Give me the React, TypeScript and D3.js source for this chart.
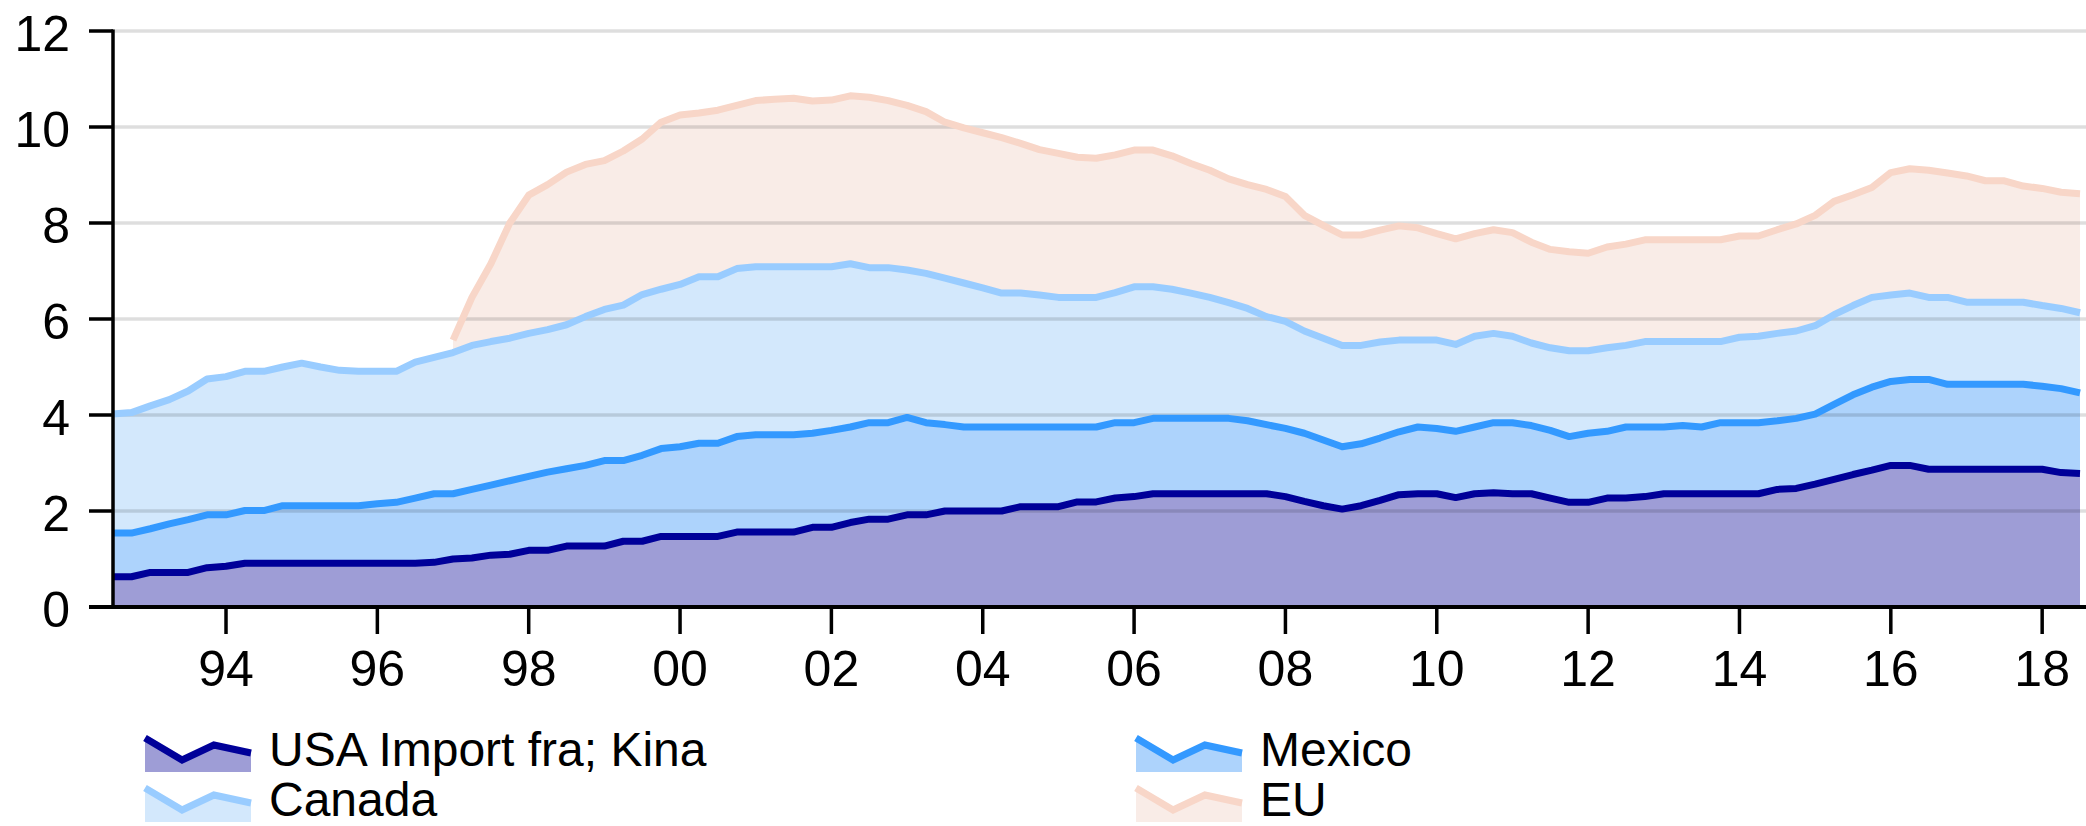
import React, { useEffect, useRef } from 'react'
import * as d3 from 'd3'

// quarterly observations, mid-1992 to mid-2018
const quarters = d3.range(105).map(i => 1992.5 + i * 0.25)

// stacked levels (each line sits on top of the series below it)
const kina = [
  0.63, 0.63,
  0.72, 0.72, 0.72, 0.82,
  0.85, 0.91, 0.91, 0.91,
  0.91, 0.91, 0.91, 0.91,
  0.91, 0.91, 0.91, 0.93,
  1.0, 1.02, 1.08, 1.1,
  1.18, 1.18, 1.27, 1.27,
  1.27, 1.37, 1.37, 1.47,
  1.47, 1.47, 1.47, 1.56,
  1.56, 1.56, 1.56, 1.66,
  1.66, 1.76, 1.83, 1.83,
  1.92, 1.92, 2.0, 2.0,
  2.0, 2.0, 2.09, 2.09,
  2.09, 2.19, 2.19, 2.27,
  2.3, 2.36, 2.36, 2.36,
  2.36, 2.36, 2.36, 2.36,
  2.3, 2.2, 2.11, 2.04,
  2.11, 2.22, 2.34, 2.36,
  2.36, 2.28, 2.36, 2.38,
  2.36, 2.36, 2.27, 2.18,
  2.18, 2.27, 2.27, 2.3,
  2.36, 2.36, 2.36, 2.36,
  2.36, 2.36, 2.45, 2.47,
  2.56, 2.66, 2.76, 2.85,
  2.95, 2.95, 2.87, 2.87,
  2.87, 2.87, 2.87, 2.87,
  2.87, 2.8, 2.78
]

const mexico = [
  1.54, 1.54,
  1.63, 1.73, 1.82, 1.92,
  1.92, 2.01, 2.01, 2.11,
  2.11, 2.11, 2.11, 2.11,
  2.15, 2.18, 2.27, 2.36,
  2.36, 2.45, 2.54, 2.63,
  2.72, 2.81, 2.88, 2.95,
  3.05, 3.05, 3.16, 3.3,
  3.34, 3.41, 3.41, 3.55,
  3.59, 3.59, 3.59, 3.62,
  3.68, 3.75, 3.84, 3.84,
  3.95, 3.84, 3.8, 3.75,
  3.75, 3.75, 3.75, 3.75,
  3.75, 3.75, 3.75, 3.84,
  3.84, 3.93, 3.93, 3.93,
  3.93, 3.93, 3.88, 3.8,
  3.72, 3.62, 3.48, 3.34,
  3.4, 3.52, 3.65, 3.75,
  3.72, 3.66, 3.75, 3.84,
  3.84, 3.78, 3.68, 3.55,
  3.62, 3.66, 3.75, 3.75,
  3.75, 3.78, 3.75, 3.84,
  3.84, 3.84, 3.88, 3.93,
  4.02, 4.22, 4.42, 4.58,
  4.7, 4.74, 4.74, 4.64,
  4.64, 4.64, 4.64, 4.64,
  4.6, 4.55, 4.46
]

const canada = [
  4.02, 4.05,
  4.19, 4.32, 4.5, 4.75,
  4.8, 4.91, 4.91, 5.0,
  5.08, 5.0, 4.93, 4.91,
  4.91, 4.91, 5.1, 5.2,
  5.3, 5.45, 5.53, 5.6,
  5.7, 5.78, 5.88, 6.05,
  6.2, 6.29, 6.51, 6.62,
  6.72, 6.88, 6.88, 7.05,
  7.09, 7.09, 7.09, 7.09,
  7.09, 7.15, 7.07, 7.07,
  7.02, 6.95, 6.85, 6.75,
  6.65, 6.54, 6.54, 6.5,
  6.45, 6.45, 6.45, 6.55,
  6.67, 6.67, 6.62, 6.54,
  6.45, 6.34, 6.22, 6.05,
  5.95, 5.75, 5.6, 5.45,
  5.45, 5.52, 5.56, 5.56,
  5.56, 5.47, 5.64, 5.7,
  5.64, 5.5, 5.4, 5.34,
  5.34, 5.4, 5.45, 5.53,
  5.53, 5.53, 5.53, 5.53,
  5.62, 5.64, 5.7, 5.75,
  5.86, 6.09, 6.28, 6.45,
  6.5, 6.54, 6.45, 6.45,
  6.35, 6.35, 6.35, 6.35,
  6.28, 6.22, 6.13
]

// EU series starts in 1997
const eu = [
  null, null,
  null, null, null, null,
  null, null, null, null,
  null, null, null, null,
  null, null, null, null,
  5.56, 6.45, 7.15, 8.0,
  8.58, 8.8, 9.06, 9.22,
  9.3, 9.5, 9.75, 10.1,
  10.25, 10.29, 10.35, 10.45,
  10.55, 10.58, 10.6, 10.54,
  10.56, 10.65, 10.62, 10.55,
  10.45, 10.32, 10.1, 9.98,
  9.88, 9.78, 9.66, 9.53,
  9.45, 9.37, 9.35, 9.42,
  9.52, 9.52, 9.4, 9.24,
  9.1, 8.92, 8.8, 8.7,
  8.55, 8.16, 7.95, 7.75,
  7.75, 7.85, 7.94, 7.9,
  7.78, 7.67, 7.78, 7.86,
  7.8, 7.6, 7.45, 7.4,
  7.37, 7.5, 7.56, 7.65,
  7.65, 7.65, 7.65, 7.65,
  7.73, 7.73, 7.86, 7.98,
  8.16, 8.45, 8.59, 8.74,
  9.05, 9.13, 9.1, 9.04,
  8.98, 8.88, 8.88, 8.77,
  8.72, 8.64, 8.61
]

const yTicks = [0, 2, 4, 6, 8, 10, 12]
const xTicks = [1994, 1996, 1998, 2000, 2002, 2004, 2006, 2008, 2010, 2012, 2014, 2016, 2018]
const xTickLabels = ['94', '96', '98', '00', '02', '04', '06', '08', '10', '12', '14', '16', '18']

const seriesNames = ['USA Import fra; Kina', 'Mexico', 'Canada', 'EU']

const width = 2086
const height = 826
const font = '"Liberation Sans", Arial, sans-serif'

function App() {
  const ref = useRef<SVGSVGElement>(null)

  useEffect(() => {
    const svg = d3.select(ref.current)
    svg.selectAll('*').remove()

    const x = d3.scaleLinear().domain([1992.5, 2018.5]).range([112.5, 2080])
    const y = d3.scaleLinear().domain([0, 12]).range([607, 31])

    const layers = [
      { name: seriesNames[3], top: eu, base: canada, line: '#f8d6c8', fill: '#f9ece7' },
      { name: seriesNames[2], top: canada, base: mexico, line: '#99ccff', fill: '#d3e8fc' },
      { name: seriesNames[1], top: mexico, base: kina, line: '#3399ff', fill: '#add3fc' },
      { name: seriesNames[0], top: kina, base: null, line: '#000099', fill: '#9e9dd6' }
    ]

    // bands
    layers.forEach(l => {
      const area = d3.area<number>()
        .defined(i => l.top[i] != null)
        .x(i => x(quarters[i]))
        .y0(i => (l.base ? y(l.base[i] as number) : y(0)))
        .y1(i => y(l.top[i] as number))
      svg.append('path')
        .attr('d', area(d3.range(quarters.length)))
        .attr('fill', l.fill)
    })

    // gridlines, drawn over the bands
    svg.append('g')
      .selectAll('line')
      .data(yTicks.filter(v => v > 0))
      .enter()
      .append('line')
      .attr('x1', 113)
      .attr('x2', width)
      .attr('y1', d => y(d))
      .attr('y2', d => y(d))
      .attr('stroke', 'rgba(0,0,0,0.13)')
      .attr('stroke-width', 3.5)

    // lines
    layers.forEach(l => {
      const line = d3.line<number>()
        .defined(i => l.top[i] != null)
        .x(i => x(quarters[i]))
        .y(i => y(l.top[i] as number))
      svg.append('path')
        .attr('d', line(d3.range(quarters.length)))
        .attr('fill', 'none')
        .attr('stroke', l.line)
        .attr('stroke-width', 7)
        .attr('stroke-linejoin', 'round')
    })

    // y axis
    svg.append('line')
      .attr('x1', 113).attr('x2', 113)
      .attr('y1', y(12) - 1.5).attr('y2', y(0))
      .attr('stroke', '#000').attr('stroke-width', 3.5)
    const yt = svg.append('g')
    yt.selectAll('line')
      .data(yTicks)
      .enter()
      .append('line')
      .attr('x1', 89).attr('x2', 113)
      .attr('y1', d => y(d)).attr('y2', d => y(d))
      .attr('stroke', '#000').attr('stroke-width', 3.5)
    yt.selectAll('text')
      .data(yTicks)
      .enter()
      .append('text')
      .attr('x', 70)
      .attr('y', d => y(d) + 20)
      .attr('text-anchor', 'end')
      .attr('font-family', font)
      .attr('font-size', 50)
      .text(d => d)

    // x axis
    svg.append('line')
      .attr('x1', 89).attr('x2', width)
      .attr('y1', y(0)).attr('y2', y(0))
      .attr('stroke', '#000').attr('stroke-width', 4)
    const xt = svg.append('g')
    xt.selectAll('line')
      .data(xTicks)
      .enter()
      .append('line')
      .attr('x1', d => x(d)).attr('x2', d => x(d))
      .attr('y1', y(0)).attr('y2', 634)
      .attr('stroke', '#000').attr('stroke-width', 3.5)
    xt.selectAll('text')
      .data(xTicks)
      .enter()
      .append('text')
      .attr('x', d => x(d))
      .attr('y', 686)
      .attr('text-anchor', 'middle')
      .attr('font-family', font)
      .attr('font-size', 50)
      .text((d, i) => xTickLabels[i])

    // legend
    const legendItems = [
      { layer: layers[3], lx: 145, ly: 738 },
      { layer: layers[1], lx: 145, ly: 788 },
      { layer: layers[2], lx: 1136, ly: 738 },
      { layer: layers[0], lx: 1136, ly: 788 }
    ]
    const iconW = 106
    const iconPts: [number, number][] = [[0, 0], [0.35, 22], [0.65, 7], [1, 15]]
    legendItems.forEach(({ layer, lx, ly }) => {
      const g = svg.append('g').attr('transform', `translate(${lx},${ly})`)
      const pts = iconPts.map(([px, py]) => [px * iconW, py] as [number, number])
      const area = d3.area<[number, number]>().x(d => d[0]).y0(34).y1(d => d[1])
      g.append('path').attr('d', area(pts)).attr('fill', layer.fill)
      g.append('path').attr('d', d3.line()(pts)).attr('fill', 'none')
        .attr('stroke', layer.line).attr('stroke-width', 7)
      g.append('text')
        .attr('x', 124)
        .attr('y', 28)
        .attr('font-family', font)
        .attr('font-size', 48)
        .text(layer.name)
    })
  }, [])

  return (
    <svg
      ref={ref}
      width={width}
      height={height}
      style={{ position: 'absolute', left: 0, top: 0, background: '#fff' }}
    ></svg>
  )
}

export default App
